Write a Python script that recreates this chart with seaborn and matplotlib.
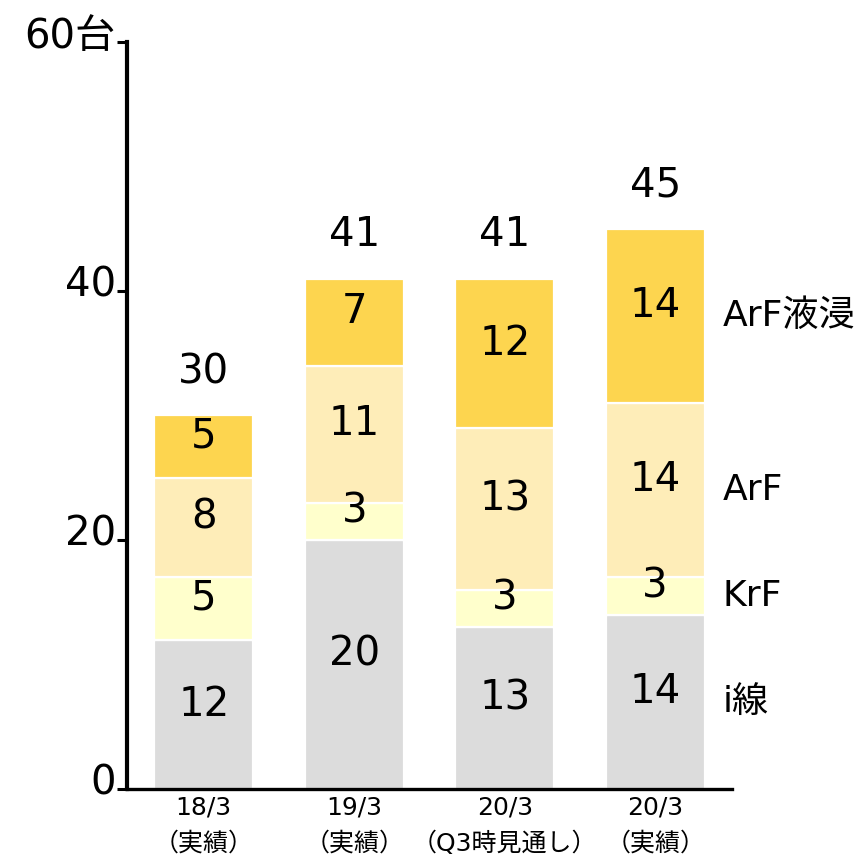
import numpy as np
import pandas as pd
import seaborn as sns
from matplotlib import pyplot as plt
from matplotlib.transforms import ScaledTranslation

sns.set_style('white')
plt.rcParams['font.family'] = ['DejaVu Sans', 'Noto Sans CJK JP']
plt.rcParams['text.color'] = 'black'
plt.rcParams['xtick.color'] = 'black'
plt.rcParams['ytick.color'] = 'black'

#------------------------------------------------------------------------------
# Data
#------------------------------------------------------------------------------
categories = ['18/3\n（実績）', '19/3\n（実績）', '20/3\n（Q3時見通し）', '20/3\n（実績）']
series = ['i線', 'KrF', 'ArF', 'ArF液浸']
i_line = [12, 20, 13, 14]
krf = [5, 3, 3, 3]
arf = [8, 11, 13, 14]
arf_imm = [5, 7, 12, 14]
totals = [30, 41, 41, 45]
colors = ['#dcdcdc', '#ffffcc', '#feedb8', '#fdd54f']

#------------------------------------------------------------------------------
# Plot figure
#------------------------------------------------------------------------------
fig = plt.figure(figsize=(8.63, 8.59), dpi=100)
ax = fig.add_axes([0.1472, 0.0815, 0.701, 0.8696])

layers = [i_line, krf, arf, arf_imm]
bottom = np.zeros(len(categories))
for name, vals, col in zip(series, layers, colors):
    df = pd.DataFrame({'cat': categories, 'val': vals})
    sns.barplot(data=df, x='cat', y='val', bottom=bottom, color=col,
                width=0.66, edgecolor='white', linewidth=1.6, ax=ax,
                saturation=1)
    for i, v in enumerate(vals):
        ax.annotate(str(v), (i, bottom[i] + v / 2), xytext=(0, 7),
                    textcoords='offset points', ha='center', va='center',
                    fontsize=29)
    # series label next to last bar
    ax.annotate(name, (len(categories) - 1, bottom[-1] + vals[-1] / 2),
                xytext=(0.985, 0), textcoords=('axes fraction', 'offset points'),
                ha='left', va='center', fontsize=26, annotation_clip=False)
    bottom = bottom + np.array(vals)

for i, t in enumerate(totals):
    ax.annotate(str(t), (i, t), xytext=(0, 31), textcoords='offset points',
                ha='center', va='center', fontsize=29)

ax.set_xlim(-0.51, 3.51)
ax.set_ylim(0, 60)
ax.set_yticks([0, 20, 40, 60])
ax.set_yticklabels(['0', '20', '40', '60台'], fontsize=29)
ax.set_xlabel('')
ax.set_ylabel('')
ax.tick_params(axis='x', length=0, labelsize=18, pad=5)
ax.tick_params(axis='y', left=True, length=7, width=2.2, pad=1)
for lab in ax.get_xticklabels():
    lab.set_linespacing(1.6)
for lab in ax.get_yticklabels():
    lab.set_transform(lab.get_transform() + ScaledTranslation(0, 7 / 72, fig.dpi_scale_trans))

ax.spines['right'].set_visible(False)
ax.spines['top'].set_visible(False)
ax.spines['left'].set_linewidth(3)
ax.spines['bottom'].set_linewidth(2.4)
ax.spines['left'].set_color('black')
ax.spines['bottom'].set_color('black')

#------------------------------------------------------------------------------
# Save figure
#------------------------------------------------------------------------------
plt.savefig('out.png', dpi=100)
